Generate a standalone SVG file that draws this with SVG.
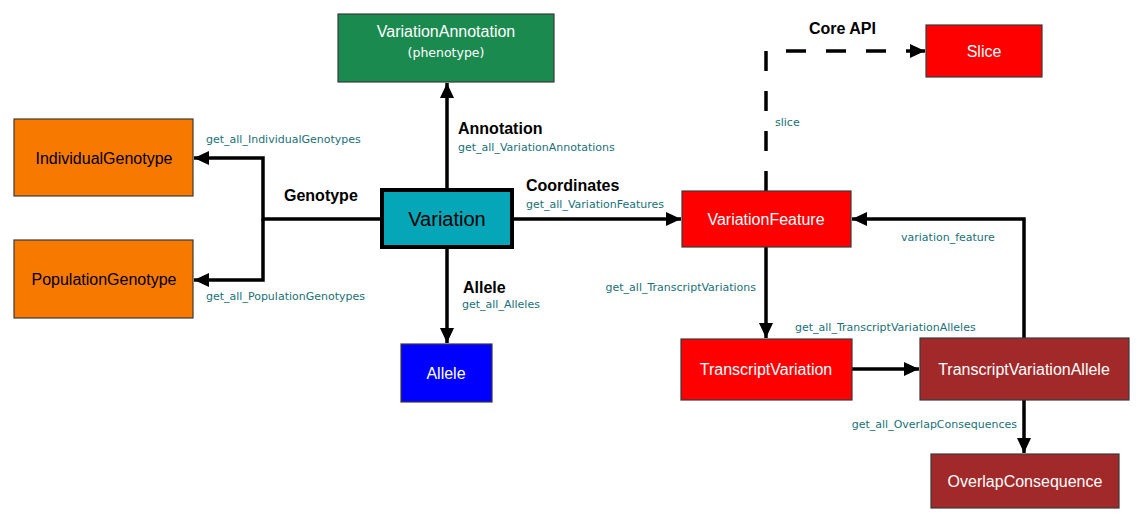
<svg xmlns="http://www.w3.org/2000/svg" width="1146" height="522" viewBox="0 0 1146 522">
<defs>
<marker id="arr" markerUnits="userSpaceOnUse" markerWidth="16" markerHeight="16" refX="15" refY="8" orient="auto">
<path d="M0,1 L15,8 L0,15 z" fill="#000"/>
</marker>
<style>
.box{stroke:#3a3a3a;stroke-width:1.2}
.nl{font-family:"Liberation Sans",Arial,sans-serif;font-size:16px;text-anchor:middle}
.w{fill:#fff}
.k{fill:#000}
.bl{font-family:"Liberation Sans",Arial,sans-serif;font-size:16px;font-weight:bold;fill:#000}
.ll{font-family:"DejaVu Sans",sans-serif;font-size:11px;fill:#1a7078}
.c{fill:none;stroke:#000;stroke-width:3.5}
</style>
</defs>
<rect width="1146" height="522" fill="#fff"/>
<g id="connectors">
<path class="c" d="M381,219 H263 V158 H194" marker-end="url(#arr)"/>
<path class="c" d="M263,219 V280 H194" marker-end="url(#arr)"/>
<path class="c" d="M447,188 V83" marker-end="url(#arr)"/>
<path class="c" d="M447,249 V343" marker-end="url(#arr)"/>
<path class="c" d="M513,219 H681" marker-end="url(#arr)"/>
<path class="c" d="M766,191 V51 H925" stroke-dasharray="20,20" marker-end="url(#arr)"/>
<path class="c" d="M766,247 V338" marker-end="url(#arr)"/>
<path class="c" d="M852,369 H919" marker-end="url(#arr)"/>
<path class="c" d="M1024,338 V219 H852" marker-end="url(#arr)"/>
<path class="c" d="M1024,400 V453" marker-end="url(#arr)"/>
<text class="bl" x="284" y="201">Genotype</text>
<text class="ll" x="206" y="143">get_all_IndividualGenotypes</text>
<text class="ll" x="206" y="300">get_all_PopulationGenotypes</text>
<text class="bl" x="458" y="134">Annotation</text>
<text class="ll" x="458" y="151">get_all_VariationAnnotations</text>
<text class="bl" x="526" y="191">Coordinates</text>
<text class="ll" x="526" y="208">get_all_VariationFeatures</text>
<text class="bl" x="463" y="293">Allele</text>
<text class="ll" x="462" y="308">get_all_Alleles</text>
<text class="bl" x="809" y="34">Core API</text>
<text class="ll" x="775" y="126">slice</text>
<text class="ll" x="901" y="241">variation_feature</text>
<text class="ll" x="756" y="291" text-anchor="end">get_all_TranscriptVariations</text>
<text class="ll" x="795" y="331">get_all_TranscriptVariationAlleles</text>
<text class="ll" x="1017" y="428" text-anchor="end">get_all_OverlapConsequences</text>
</g>
<g id="IndividualGenotype">
<rect class="box" x="14" y="119" width="179" height="77" fill="#f77900"/>
<text class="nl k" x="104" y="164">IndividualGenotype</text>
</g>
<g id="PopulationGenotype">
<rect class="box" x="14" y="240" width="179" height="78" fill="#f77900"/>
<text class="nl k" x="104" y="285">PopulationGenotype</text>
</g>
<g id="VariationAnnotation">
<rect class="box" x="338" y="14" width="216" height="68" fill="#1b8a4f"/>
<text class="nl w" x="446" y="37">VariationAnnotation</text>
<text x="446" y="57" text-anchor="middle" font-family="DejaVu Sans, sans-serif" font-size="12.5" fill="#fff">(phenotype)</text>
</g>
<g id="Variation">
<rect x="382" y="190" width="130" height="57" fill="#06a6b9" stroke="#000" stroke-width="4"/>
<text class="nl k" x="447" y="226" font-size="20" style="font-size:20px">Variation</text>
</g>
<g id="Allele">
<rect class="box" x="401" y="344" width="91" height="58" fill="#0000ff"/>
<text class="nl w" x="446" y="379">Allele</text>
</g>
<g id="VariationFeature">
<rect class="box" x="682" y="191" width="169" height="56" fill="#ff0000"/>
<text class="nl w" x="766" y="225">VariationFeature</text>
</g>
<g id="Slice">
<rect class="box" x="926" y="25" width="116" height="52" fill="#ff0000"/>
<text class="nl w" x="984" y="57">Slice</text>
</g>
<g id="TranscriptVariation">
<rect class="box" x="681" y="339" width="171" height="61" fill="#ff0000"/>
<text class="nl w" x="766" y="375">TranscriptVariation</text>
</g>
<g id="TranscriptVariationAllele">
<rect class="box" x="920" y="338" width="209" height="62" fill="#a2292a"/>
<text class="nl w" x="1024" y="375">TranscriptVariationAllele</text>
</g>
<g id="OverlapConsequence">
<rect class="box" x="931" y="454" width="188" height="54" fill="#a2292a"/>
<text class="nl w" x="1025" y="487">OverlapConsequence</text>
</g>
</svg>
